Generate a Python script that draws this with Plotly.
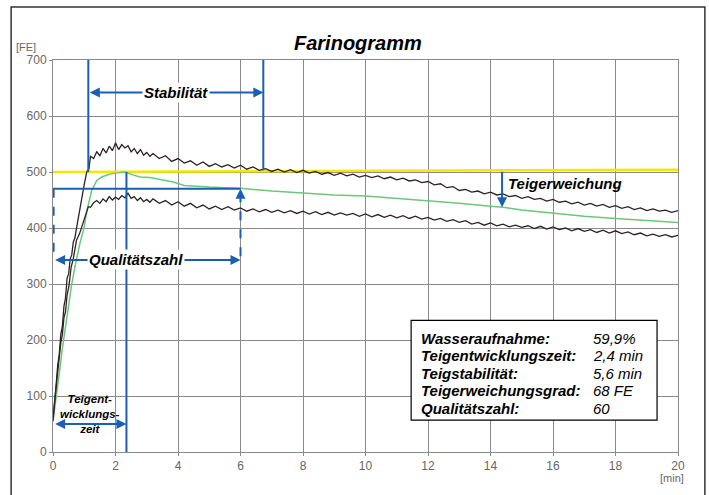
import plotly.graph_objects as go

# ---------------- data ----------------
x_ticks = [0, 2, 4, 6, 8, 10, 12, 14, 16, 18, 20]
y_ticks = [0, 100, 200, 300, 400, 500, 600, 700]

# upper envelope (black)
upper_x = [0.0, 0.05, 0.1, 0.15, 0.2, 0.25, 0.3, 0.35, 0.4, 0.45, 0.5, 0.55, 0.6, 0.65, 0.7, 0.76, 0.86, 0.95, 1.0, 1.08, 1.15,
           1.2, 1.3, 1.4, 1.5, 1.6, 1.7, 1.8, 1.9, 2.0, 2.1, 2.2, 2.3, 2.4, 2.5, 2.6, 2.7, 2.8, 2.9, 3.0, 3.1,
           3.2, 3.4, 3.6, 3.8, 4.0, 4.2, 4.4, 4.6, 4.8, 5.0,
           5.2, 5.4, 5.6, 5.8, 6.0, 6.2, 6.4, 6.6, 6.8, 7.0, 7.2, 7.4, 7.6, 7.8, 8.0, 8.2, 8.4, 8.6, 8.8, 9.0,
           9.2, 9.4, 9.6, 9.8, 10.0, 10.2, 10.4, 10.6, 10.8, 11.0, 11.2, 11.4, 11.6, 11.8, 12.0, 12.2, 12.4, 12.6,
           12.8, 13.0, 13.2, 13.4, 13.6, 13.8, 14.0, 14.2, 14.4, 14.6, 14.8, 15.0, 15.2, 15.4, 15.6, 15.8, 16.0,
           16.2, 16.4, 16.6, 16.8, 17.0, 17.2, 17.4, 17.6, 17.8, 18.0, 18.2, 18.4, 18.6, 18.8, 19.0, 19.2, 19.4,
           19.6, 19.8, 20.0]
upper_y = [55, 95, 120, 155, 175, 210, 225, 260, 275, 310, 318, 345, 352, 375, 382, 402, 435, 468, 478, 500, 506,
           528, 524, 536, 529, 542, 534, 546, 538, 552, 540, 549, 543, 547, 536, 542, 533, 540, 530, 535, 528,
           533, 524, 529, 519, 524, 516, 520, 512, 518, 510,
           515, 509, 513, 507, 512, 505, 509, 503, 506, 501, 505, 500, 504, 499, 503, 498, 501, 496, 499, 494,
           498, 493, 496, 491, 494, 490, 493, 488, 491, 486, 489, 484, 486, 481, 483, 477, 479, 472,
           474, 467, 469, 464, 466, 461, 464, 459, 461, 456, 458, 453, 456, 451, 453, 448, 451,
           446, 448, 443, 446, 441, 444, 439, 442, 437, 440, 435, 438, 433, 436, 431, 434, 430,
           432, 428, 431]

# lower envelope (black)
lower_x = [0.0, 0.05, 0.1, 0.15, 0.2, 0.25, 0.3, 0.35, 0.4, 0.45, 0.51, 0.58, 0.65, 0.75, 0.85, 0.92, 1.0, 1.13,
           1.2, 1.3, 1.4, 1.5, 1.6, 1.7, 1.8, 1.9, 2.0, 2.1, 2.2, 2.3, 2.4, 2.5, 2.6, 2.7, 2.8, 2.9, 3.0, 3.1,
           3.2, 3.4, 3.6, 3.8, 4.0, 4.2, 4.4, 4.6, 4.8, 5.0,
           5.2, 5.4, 5.6, 5.8, 6.0, 6.2, 6.4, 6.6, 6.8, 7.0, 7.2, 7.4, 7.6, 7.8, 8.0, 8.2, 8.4, 8.6, 8.8, 9.0,
           9.2, 9.4, 9.6, 9.8, 10.0, 10.2, 10.4, 10.6, 10.8, 11.0, 11.2, 11.4, 11.6, 11.8, 12.0, 12.2, 12.4, 12.6,
           12.8, 13.0, 13.2, 13.4, 13.6, 13.8, 14.0, 14.2, 14.4, 14.6, 14.8, 15.0, 15.2, 15.4, 15.6, 15.8, 16.0,
           16.2, 16.4, 16.6, 16.8, 17.0, 17.2, 17.4, 17.6, 17.8, 18.0, 18.2, 18.4, 18.6, 18.8, 19.0, 19.2, 19.4,
           19.6, 19.8, 20.0]
lower_y = [62, 88, 108, 145, 160, 195, 210, 240, 250, 280, 296, 330, 345, 378, 390, 402, 412, 438,
           437, 445, 449, 444, 452, 447, 456, 450, 455, 451, 458, 454, 462, 453, 456, 449, 454, 447, 451, 446,
           452, 444, 449, 441, 447, 439, 444, 436, 441, 434,
           439, 433, 438, 432, 436, 430, 434, 429, 433, 428, 432, 427, 431, 426, 430, 425, 429, 424, 428, 423,
           427, 423, 426, 421, 425, 420, 424, 419, 423, 418, 422, 417, 421, 416, 419, 414, 417, 412,
           415, 410, 413, 407, 410, 405, 409, 404, 407, 402, 405, 401, 404, 399, 403, 398, 402,
           397, 400, 395, 399, 394, 397, 392, 396, 391, 395, 390, 393, 388, 391, 386, 389, 385,
           388, 384, 387]

# mean curve (green)
mean_x = [0.0, 0.1, 0.2, 0.3, 0.4, 0.5, 0.6, 0.7, 0.76, 0.85, 0.99, 1.1, 1.24, 1.4, 1.56, 1.8, 2.0, 2.3,
          2.6, 2.8, 3.1, 3.5, 3.85, 4.2, 4.6, 5.0, 5.5, 6.0, 7.0, 8.0, 9.0, 10.0, 11.0, 12.0, 13.0, 14.0,
          14.4, 15.0, 16.0, 17.0, 18.0, 19.0, 20.0]
mean_y = [55, 95, 140, 185, 225, 265, 300, 330, 348, 370, 400, 435, 467, 485, 491, 496, 498, 500,
          494, 491, 490, 486, 482, 476, 474, 473, 472, 471, 466, 462, 459, 457, 453, 449, 444, 439,
          437, 432, 426, 421, 417, 413, 410]

# consistency line (500 FE)
line500_x = [0, 20]
line500_y = [500, 504]

# measured values (annotation markers)
t_stab_start, t_stab_end = 1.13, 6.73
t_dev = 2.35
t_quality = 6.0
y_stab_arrow = 642
y_quality_level = 470
y_quality_arrow = 343
y_dev_arrow = 50
t_softening = 14.37
y_soft_top, y_soft_bottom = 503, 437

info_labels = ["Wasseraufnahme:", "Teigentwicklungszeit:", "Teigstabilität:",
               "Teigerweichungsgrad:", "Qualitätszahl:"]
info_values = ["59,9%", "2,4 min", "5,6 min", "68 FE", "60"]

# ---------------- figure ----------------
BLUE = "#1a5fb4"
BLACK_CURVE = "#2e2222"
FONT = "Liberation Sans, Arial, sans-serif"

fig = go.Figure()

fig.add_trace(go.Scatter(x=line500_x, y=line500_y, mode="lines",
                         line=dict(color="#f7e600", width=2.5), hoverinfo="skip"))
fig.add_trace(go.Scatter(x=mean_x, y=mean_y, mode="lines",
                         line=dict(color="#6cc77a", width=1.5), hoverinfo="skip"))
fig.add_trace(go.Scatter(x=upper_x, y=upper_y, mode="lines",
                         line=dict(color=BLACK_CURVE, width=1.3), hoverinfo="skip"))
fig.add_trace(go.Scatter(x=lower_x, y=lower_y, mode="lines",
                         line=dict(color=BLACK_CURVE, width=1.3), hoverinfo="skip"))

# blue construction lines
def vline(x, y0, y1, dash="solid"):
    fig.add_trace(go.Scatter(x=[x, x], y=[y0, y1], mode="lines",
                             line=dict(color=BLUE, width=2, dash=dash), hoverinfo="skip"))

def hline(y, x0, x1, dash="solid"):
    fig.add_trace(go.Scatter(x=[x0, x1], y=[y, y], mode="lines",
                             line=dict(color=BLUE, width=2, dash=dash), hoverinfo="skip"))

vline(t_stab_start, 700, 500)
vline(t_stab_end, 700, 503)
vline(t_dev, 500, 0)
hline(y_quality_level, 0, t_quality)
vline(0.02, y_quality_level, y_quality_arrow, dash="dash")
vline(t_quality, y_quality_level - 8, y_quality_arrow, dash="dash")

annotations = []

def darrow(x0, x1, y):
    annotations.append(dict(x=x1, y=y, ax=x0, ay=y, xref="x", yref="y", axref="x", ayref="y",
                            text="", showarrow=True, arrowhead=2, arrowsize=1, arrowwidth=2,
                            arrowcolor=BLUE, arrowside="end+start", startarrowhead=2, startarrowsize=1))

darrow(t_stab_start, t_stab_end, y_stab_arrow)
darrow(0.02, t_quality, y_quality_arrow)
darrow(0.02, t_dev, y_dev_arrow)
# arrow up at quality end
annotations.append(dict(x=t_quality, y=y_quality_level, ax=t_quality, ay=y_quality_level - 12,
                        xref="x", yref="y", axref="x", ayref="y", text="", showarrow=True,
                        arrowhead=2, arrowsize=1, arrowwidth=2, arrowcolor=BLUE))
# softening arrow
annotations.append(dict(x=t_softening, y=y_soft_bottom, ax=t_softening, ay=y_soft_top,
                        xref="x", yref="y", axref="x", ayref="y", text="", showarrow=True,
                        arrowhead=2, arrowsize=1, arrowwidth=2, arrowcolor=BLUE))

lab_font = dict(family=FONT, size=15, color="black")
annotations.append(dict(x=(t_stab_start + t_stab_end) / 2, y=y_stab_arrow, xref="x", yref="y",
                        text="<b><i>Stabilität</i></b>", showarrow=False, font=lab_font,
                        bgcolor="white", borderpad=1))
annotations.append(dict(x=2.65, y=y_quality_arrow, xref="x", yref="y",
                        text="<b><i>Qualitätszahl</i></b>", showarrow=False, font=lab_font,
                        bgcolor="white", borderpad=1))
annotations.append(dict(x=14.5, y=479, xref="x", yref="y", xanchor="left",
                        text="<b><i>Teigerweichung</i></b>", showarrow=False, font=lab_font))
annotations.append(dict(x=1.18, y=68, xref="x", yref="y",
                        text="<b><i>Teigent-<br>wicklungs-<br>zeit</i></b>", showarrow=False,
                        font=dict(family=FONT, size=11.5, color="black")))

# title and axis units
annotations.append(dict(x=0.488, y=1.077, xref="paper", yref="paper",
                        text="<b><i>Farinogramm</i></b>", showarrow=False,
                        font=dict(family=FONT, size=20, color="black")))
annotations.append(dict(x=-0.043, y=1.054, xref="paper", yref="paper", xanchor="center",
                        text="[FE]", showarrow=False, font=dict(family=FONT, size=11, color="#666")))
annotations.append(dict(x=0.99, y=-0.088, xref="paper", yref="paper", xanchor="center",
                        text="[min]", showarrow=False, font=dict(family=FONT, size=11, color="#666")))

# info box text
info_y0 = 203
for i, (lab, val) in enumerate(zip(info_labels, info_values)):
    yy = info_y0 - i * 31.3
    annotations.append(dict(x=11.7, y=yy, xref="x", yref="y", xanchor="left",
                            text="<b><i>" + lab + "</i></b>", showarrow=False,
                            font=dict(family=FONT, size=15, color="black")))
    annotations.append(dict(x=17.2, y=yy, xref="x", yref="y", xanchor="left",
                            text="<i>" + val + "</i>", showarrow=False,
                            font=dict(family=FONT, size=15, color="black")))

shapes = [
    dict(type="rect", xref="x", yref="y", x0=11.46, x1=19.33, y0=57, y1=235,
         line=dict(color="black", width=1.2), fillcolor="white", layer="above"),
    dict(type="rect", xref="paper", yref="paper", x0=-0.067, x1=1.043, y0=-0.13, y1=1.135,
         line=dict(color="#333", width=1.5), fillcolor="rgba(0,0,0,0)"),
]

fig.update_layout(
    width=709, height=495,
    margin=dict(l=53, r=31, t=60, b=43),
    paper_bgcolor="white", plot_bgcolor="white",
    showlegend=False,
    annotations=annotations,
    shapes=shapes,
    font=dict(family=FONT),
)
fig.update_xaxes(range=[0, 20], tickvals=x_ticks, showgrid=True, gridcolor="#8a8a8a", gridwidth=1,
                 zeroline=False, showline=True, mirror=True, linecolor="#8a8a8a", linewidth=1,
                 ticks="outside", ticklen=3, tickcolor="#8a8a8a",
                 tickfont=dict(family=FONT, size=12, color="#666"))
fig.update_yaxes(range=[0, 700], tickvals=y_ticks, showgrid=True, gridcolor="#8a8a8a", gridwidth=1,
                 zeroline=False, showline=True, mirror=True, linecolor="#8a8a8a", linewidth=1,
                 ticks="outside", ticklen=3, tickcolor="#8a8a8a",
                 tickfont=dict(family=FONT, size=12, color="#666"))

fig.write_html("out.html", config={"displayModeBar": False},
               post_script="document.body.style.margin='0';")
